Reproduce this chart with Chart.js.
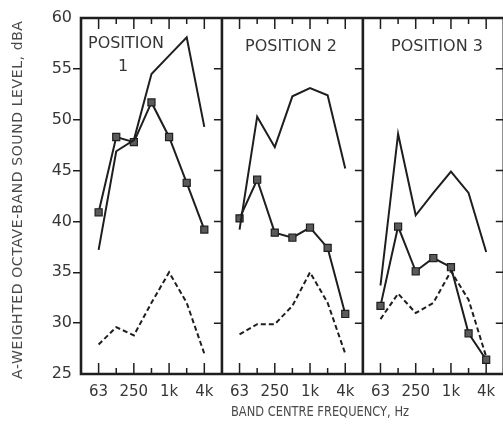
<!DOCTYPE html>
<html>
<head>
<meta charset="utf-8">
<script src="https://cdn.jsdelivr.net/npm/chart.js@4"></script>
<style>
html,body{margin:0;padding:0;background:#fff;overflow:hidden;width:503px;height:426px;}
#c{position:absolute;left:0;top:0;}
</style>
</head>
<body>
<canvas id="c" width="510" height="426"></canvas>
<script>
// Octave band centre frequencies (one per point in each panel)
const bandLabels = ['63', '125', '250', '500', '1k', '2k', '4k'];
const tickLabels = ['63', '250', '1k', '4k'];
const panelNames = ['POSITION', 'POSITION 2', 'POSITION 3'];

// Position 1
const pos1Solid   = [37.2, 46.9, 48.0, 54.5, 56.3, 58.1, 49.3];
const pos1Squares = [40.9, 48.3, 47.8, 51.7, 48.3, 43.8, 39.2];
const pos1Dashed  = [27.9, 29.6, 28.8, 32.0, 35.0, 32.0, 27.0];
// Position 2
const pos2Solid   = [39.2, 50.3, 47.3, 52.3, 53.1, 52.4, 45.2];
const pos2Squares = [40.3, 44.1, 38.9, 38.4, 39.4, 37.4, 30.9];
const pos2Dashed  = [28.9, 29.9, 29.9, 31.7, 35.0, 32.0, 27.0];
// Position 3
const pos3Solid   = [33.7, 48.6, 40.6, 42.8, 44.9, 42.8, 37.0];
const pos3Squares = [31.7, 39.5, 35.1, 36.4, 35.5, 29.0, 26.4];
const pos3Dashed  = [30.4, 32.9, 31.0, 32.0, 35.1, 32.3, 26.7];

const yTicks = [25, 30, 35, 40, 45, 50, 55, 60];

const solids = [pos1Solid, pos2Solid, pos3Solid];
const squares = [pos1Squares, pos2Squares, pos3Squares];
const dashes = [pos1Dashed, pos2Dashed, pos3Dashed];

const PANEL_STEP = bandLabels.length + 1; // 8 units per panel
function toXY(arr, p) { return arr.map((v, i) => ({ x: p * PANEL_STEP + i, y: v })); }

const INK = '#1e1e1e';
const TXT = '#363636';
const TTL = '#4a4a4a';
const FAM = '"DejaVu Sans", sans-serif';
const datasets = [];
for (let p = 0; p < 3; p++) {
  datasets.push({ data: toXY(solids[p], p), borderColor: INK, borderWidth: 2, pointRadius: 0, tension: 0 });
  datasets.push({ data: toXY(dashes[p], p), borderColor: INK, borderWidth: 2, borderDash: [5, 3], pointRadius: 0, tension: 0 });
  datasets.push({ data: toXY(squares[p], p), borderColor: INK, borderWidth: 2, pointStyle: 'rect', pointRadius: 5,
    pointBackgroundColor: '#5a5a5a', pointBorderColor: INK, pointBorderWidth: 1.2, tension: 0 });
}

const tickPositions = [];
for (let p = 0; p < 3; p++) for (let i = 0; i < bandLabels.length; i += 2) tickPositions.push(p * PANEL_STEP + i);

// draw text so it spans the target width: widen with letter spacing, narrow by horizontal scaling
function fitText(ctx, text, x, y, target, size) {
  ctx.font = size + 'px ' + FAM;
  ctx.letterSpacing = '0px';
  const w = ctx.measureText(text).width;
  if (w > target) {
    ctx.save();
    ctx.translate(x, y);
    ctx.scale(target / w, 1);
    ctx.fillText(text, 0, 0);
    ctx.restore();
  } else {
    const ls = (target - w) / (text.length - 1);
    ctx.letterSpacing = ls.toFixed(2) + 'px';
    ctx.fillText(text, x + ls / 2, y);
    ctx.letterSpacing = '0px';
  }
}

const framePlugin = {
  id: 'frame',
  afterDatasetsDraw(chart) {
    const { ctx, chartArea: a, scales: { x, y } } = chart;
    ctx.save();
    ctx.strokeStyle = INK;
    ctx.lineCap = 'butt';
    // frame lines
    ctx.lineWidth = 2.6;
    ctx.beginPath();
    ctx.moveTo(x.getPixelForValue(-1) - 1.3, a.top); ctx.lineTo(x.getPixelForValue(3 * PANEL_STEP - 1), a.top);
    ctx.moveTo(x.getPixelForValue(-1) - 1.3, a.bottom); ctx.lineTo(x.getPixelForValue(3 * PANEL_STEP - 1), a.bottom);
    for (let p = 0; p <= 3; p++) {
      const px = x.getPixelForValue(p * PANEL_STEP - 1);
      ctx.moveTo(px, a.top); ctx.lineTo(px, a.bottom);
    }
    ctx.stroke();
    // inner ticks
    ctx.lineWidth = 1.5;
    ctx.beginPath();
    for (let p = 0; p < 3; p++) {
      for (let i = 0; i < bandLabels.length; i++) {
        const px = x.getPixelForValue(p * PANEL_STEP + i);
        const len = i % 2 === 0 ? 11 : 6;
        ctx.moveTo(px, a.top); ctx.lineTo(px, a.top + len);
        ctx.moveTo(px, a.bottom); ctx.lineTo(px, a.bottom - len);
      }
      const rx = x.getPixelForValue((p + 1) * PANEL_STEP - 1);
      yTicks.slice(1, -1).forEach(v => {
        const py = y.getPixelForValue(v);
        ctx.moveTo(rx, py); ctx.lineTo(rx - 8, py);
      });
    }
    ctx.stroke();
    // panel labels
    ctx.fillStyle = TXT;
    ctx.textAlign = 'center';
    ctx.textBaseline = 'middle';
    fitText(ctx, panelNames[0], 126, 44, 76, 16);
    ctx.font = '16px ' + FAM;
    ctx.fillText('1', 123, 67);
    fitText(ctx, panelNames[1], 291, 47, 92, 16);
    fitText(ctx, panelNames[2], 437, 47, 92, 16);
    // axis titles
    ctx.fillStyle = TTL;
    fitText(ctx, 'BAND CENTRE FREQUENCY, Hz', 320, 412, 178, 14);
    ctx.translate(18, 200);
    ctx.rotate(-Math.PI / 2);
    fitText(ctx, 'A-WEIGHTED OCTAVE-BAND SOUND LEVEL, dBA', 0, 0, 358, 14);
    ctx.restore();
  }
};

new Chart(document.getElementById('c'), {
  type: 'line',
  data: { datasets },
  options: {
    responsive: false,
    animation: false,
    events: [],
    layout: { padding: { top: 18, right: 3, bottom: 0, left: 0 } },
    plugins: { legend: { display: false }, tooltip: { enabled: false } },
    scales: {
      x: {
        type: 'linear',
        min: -1,
        max: 3 * PANEL_STEP - 1,
        grid: { display: false },
        border: { display: false },
        afterBuildTicks: (s) => { s.ticks = tickPositions.map(v => ({ value: v })); },
        afterFit: (s) => { s.height = 52; },
        ticks: {
          autoSkip: false,
          maxRotation: 0,
          padding: 1,
          color: TXT,
          font: { family: FAM, size: 15 },
          callback: (v) => tickLabels[((v % PANEL_STEP) / 2) | 0]
        }
      },
      y: {
        min: 25,
        max: 60,
        afterBuildTicks: (s) => { s.ticks = yTicks.map(v => ({ value: v })); },
        afterFit: (s) => { s.width = 81; },
        grid: {
          drawOnChartArea: false,
          drawTicks: true,
          tickLength: 8,
          lineWidth: 1.5,
          color: (c) => (c.tick && (c.tick.value === 25 || c.tick.value === 60)) ? 'rgba(0,0,0,0)' : INK
        },
        border: { display: false },
        ticks: {
          padding: 1,
          color: TXT,
          font: { family: FAM, size: 16 }
        }
      }
    }
  },
  plugins: [framePlugin]
});
</script>
</body>
</html>
